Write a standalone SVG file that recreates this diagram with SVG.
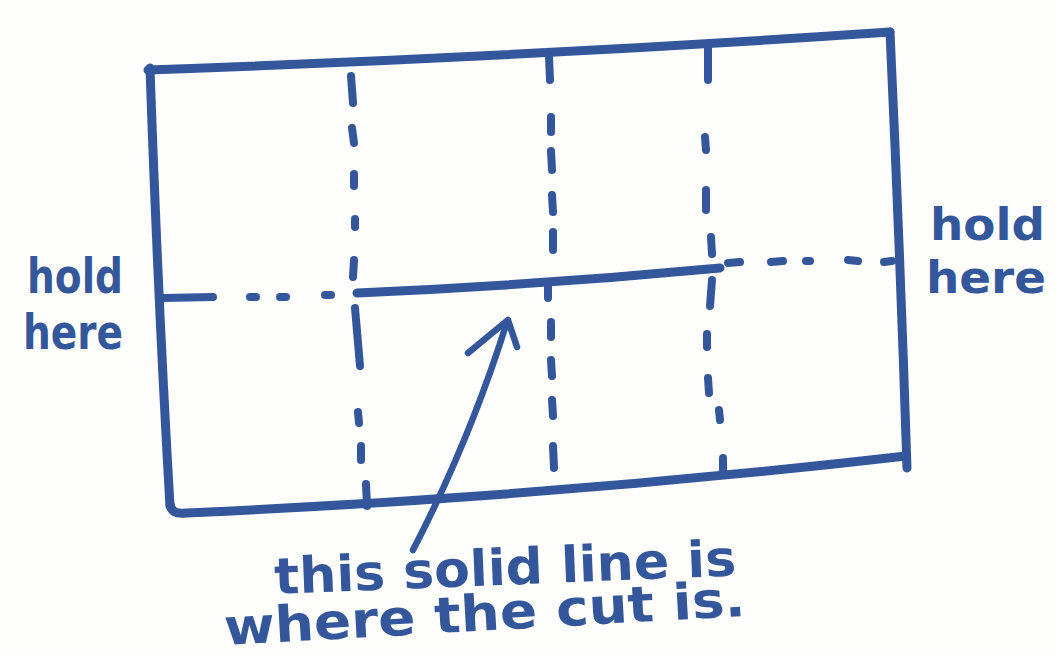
<svg xmlns="http://www.w3.org/2000/svg" width="1057" height="655" viewBox="0 0 1057 655">
  <style>
    .ink { fill: none; stroke: #33579a; stroke-linecap: round; stroke-linejoin: round; }
    .edge { stroke-width: 9; }
    .dash { stroke-width: 8; }
    .cut { stroke-width: 9; }
    .arrow { stroke-width: 6.5; }
    .hand { font-family: "DejaVu Sans", "Liberation Sans", sans-serif; font-weight: bold; fill: #33579a; }
  </style>
  <rect x="0" y="0" width="1057" height="655" fill="#fefefd"/>

  <g id="paper-frame" class="ink edge">
    <path d="M148,70 Q520,57 890,32"/>
    <path d="M890,32 Q900,250 907,468"/>
    <path d="M150,68 Q158,300 170,506"/>
    <path d="M170,504 Q171,515 186,513 Q550,497 906,456"/>
  </g>

  <g id="fold-lines" class="ink dash">
    <!-- vertical fold 1 -->
    <line x1="351" y1="76" x2="353" y2="103"/>
    <line x1="352" y1="128" x2="354" y2="143"/>
    <line x1="354" y1="174" x2="354" y2="186"/>
    <line x1="355" y1="219" x2="355" y2="227"/>
    <line x1="354" y1="260" x2="353" y2="277"/>
    <line x1="355" y1="308" x2="360" y2="366"/>
    <line x1="358" y1="412" x2="359" y2="423"/>
    <line x1="361" y1="446" x2="361" y2="460"/>
    <line x1="366" y1="484" x2="367" y2="506"/>
    <!-- vertical fold 2 -->
    <line x1="549" y1="56" x2="550" y2="80"/>
    <line x1="551" y1="117" x2="551" y2="132"/>
    <line x1="551" y1="151" x2="552" y2="170"/>
    <line x1="552" y1="195" x2="553" y2="212"/>
    <line x1="553" y1="232" x2="553" y2="250"/>
    <line x1="548" y1="284" x2="548" y2="298"/>
    <line x1="551" y1="322" x2="551" y2="337"/>
    <line x1="551" y1="360" x2="552" y2="376"/>
    <line x1="552" y1="400" x2="553" y2="416"/>
    <line x1="553" y1="446" x2="554" y2="468"/>
    <!-- vertical fold 3 -->
    <line x1="708" y1="46" x2="708" y2="80"/>
    <line x1="705" y1="137" x2="706" y2="150"/>
    <line x1="706" y1="190" x2="706" y2="210"/>
    <line x1="711" y1="237" x2="712" y2="254"/>
    <line x1="712" y1="280" x2="710" y2="306"/>
    <line x1="707" y1="334" x2="707" y2="347"/>
    <line x1="708" y1="378" x2="709" y2="393"/>
    <line x1="719" y1="410" x2="720" y2="420"/>
    <line x1="723" y1="458" x2="723" y2="472"/>
    <!-- horizontal fold, left -->
    <line x1="163" y1="298" x2="213" y2="297"/>
    <line x1="250" y1="297" x2="256" y2="297"/>
    <line x1="280" y1="297" x2="286" y2="297"/>
    <line x1="325" y1="295" x2="331" y2="295"/>
    <!-- horizontal fold, right -->
    <line x1="728" y1="263" x2="740" y2="262"/>
    <line x1="771" y1="262" x2="783" y2="261"/>
    <line x1="806" y1="261" x2="810" y2="261"/>
    <line x1="848" y1="260" x2="858" y2="261"/>
    <line x1="884" y1="262" x2="892" y2="261"/>
  </g>

  <g id="cut-line" class="ink cut">
    <path d="M357,293 Q540,285 720,268"/>
  </g>

  <g id="connectors" class="ink arrow">
    <path d="M413,550 Q470,440 507,322"/>
    <polyline points="468,353 508,320 517,347"/>
  </g>

  <g id="label-left">
    <text class="hand" x="27" y="293" font-size="48" textLength="96" lengthAdjust="spacingAndGlyphs">hold</text>
    <text class="hand" x="23" y="349" font-size="48" textLength="100" lengthAdjust="spacingAndGlyphs">here</text>
  </g>

  <g id="label-right">
    <text class="hand" x="930" y="240" font-size="44" textLength="115" lengthAdjust="spacingAndGlyphs">hold</text>
    <text class="hand" x="926" y="293" font-size="44" textLength="120" lengthAdjust="spacingAndGlyphs">here</text>
  </g>

  <g id="label-cut">
    <text class="hand" x="275" y="594" font-size="50" textLength="462" lengthAdjust="spacingAndGlyphs" transform="rotate(-2.3 275 594)">this solid line is</text>
    <text class="hand" x="225" y="645" font-size="50" textLength="522" lengthAdjust="spacingAndGlyphs" transform="rotate(-3.2 225 645)">where the cut is.</text>
  </g>
</svg>
